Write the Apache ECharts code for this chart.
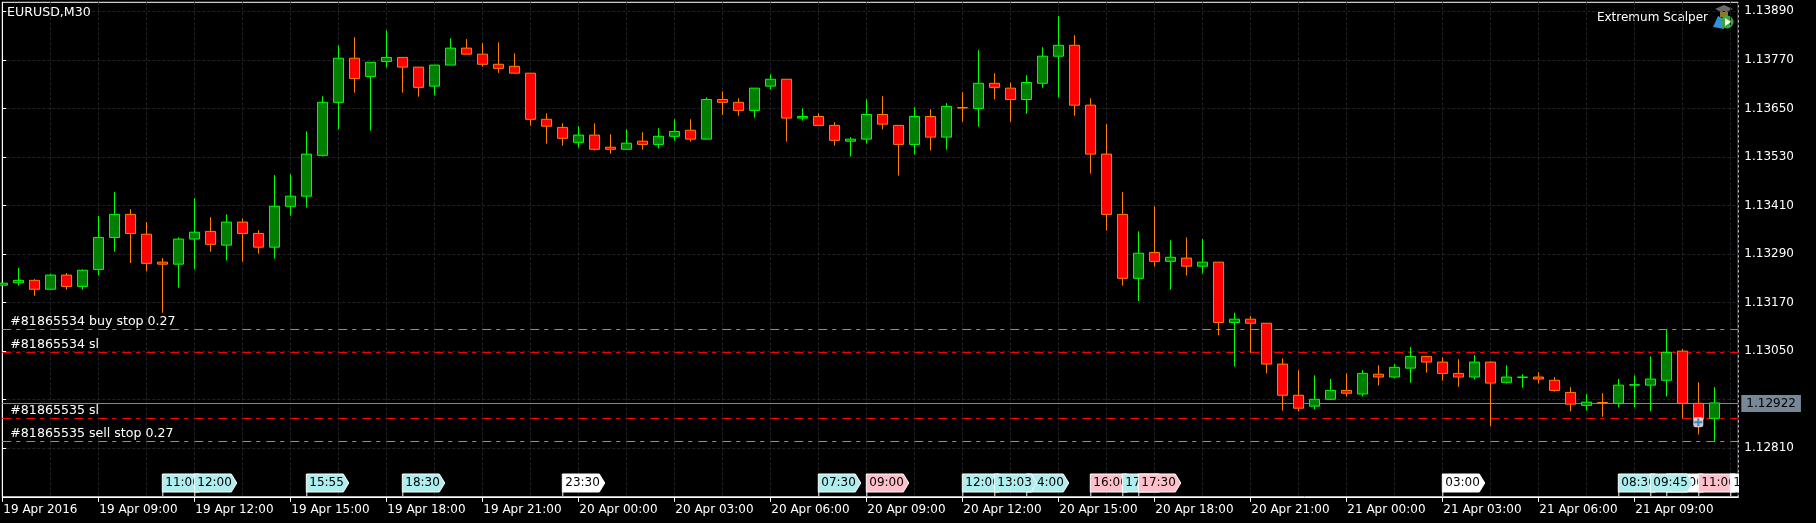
<!DOCTYPE html>
<html>
<head>
<meta charset="utf-8">
<style>
  html, body { margin: 0; padding: 0; background: #000; }
  #main { width: 1816px; height: 523px; }
</style>
<script src="https://cdn.jsdelivr.net/npm/echarts@6/dist/echarts.min.js"></script>
</head>
<body>
<div id="main"></div>
<script>
const opens = [1.13213,1.13219,1.13225,1.13203,1.13238,1.13210,1.13252,1.13331,1.13388,1.13339,1.13270,1.13265,1.13327,1.13346,1.13312,1.13369,1.13341,1.13307,1.13408,1.13433,1.13534,1.13665,1.13774,1.13729,1.13766,1.13776,1.13752,1.13705,1.13757,1.13799,1.13784,1.13759,1.13754,1.13737,1.13623,1.13603,1.13566,1.13584,1.13554,1.13549,1.13569,1.13561,1.13581,1.13596,1.13574,1.13672,1.13665,1.13645,1.13705,1.13722,1.13626,1.13630,1.13608,1.13569,1.13574,1.13635,1.13608,1.13561,1.13630,1.13579,1.13652,1.13650,1.13712,1.13700,1.13672,1.13712,1.13779,1.13806,1.13658,1.13537,1.13388,1.13230,1.13294,1.13272,1.13280,1.13260,1.13270,1.13121,1.13129,1.13119,1.13018,1.12941,1.12914,1.12931,1.12953,1.12944,1.12993,1.12986,1.13008,1.13037,1.13023,1.12995,1.12986,1.13023,1.12973,1.12985,1.12986,1.12978,1.12948,1.12916,1.12923,1.12921,1.12966,1.12966,1.12978,1.13050,1.12921,1.12884]
const closes = [1.13218,1.13225,1.13203,1.13238,1.13210,1.13250,1.13331,1.13388,1.13341,1.13267,1.13265,1.13327,1.13344,1.13314,1.13369,1.13341,1.13307,1.13408,1.13433,1.13537,1.13665,1.13774,1.13724,1.13764,1.13776,1.13752,1.13702,1.13757,1.13799,1.13784,1.13759,1.13749,1.13737,1.13623,1.13606,1.13576,1.13584,1.13549,1.13549,1.13564,1.13561,1.13581,1.13593,1.13574,1.13672,1.13665,1.13645,1.13700,1.13722,1.13626,1.13630,1.13608,1.13571,1.13574,1.13635,1.13611,1.13561,1.13630,1.13579,1.13655,1.13651,1.13712,1.13702,1.13672,1.13714,1.13779,1.13806,1.13658,1.13537,1.13388,1.13230,1.13292,1.13272,1.13282,1.13260,1.13270,1.13121,1.13129,1.13119,1.13018,1.12941,1.12909,1.12931,1.12953,1.12946,1.12995,1.12986,1.13010,1.13037,1.13023,1.12995,1.12986,1.13023,1.12971,1.12986,1.12986,1.12981,1.12953,1.12919,1.12924,1.12922,1.12966,1.12967,1.12981,1.13047,1.12921,1.12882,1.12922]
const lows = [1.13213,1.13212,1.13187,1.13202,1.13202,1.13202,1.13237,1.13296,1.13268,1.13247,1.13145,1.13207,1.13252,1.13296,1.13274,1.13271,1.13291,1.13279,1.13385,1.13405,1.13531,1.13598,1.13689,1.13595,1.13751,1.13689,1.13679,1.13682,1.13757,1.13784,1.13753,1.13738,1.13737,1.13607,1.13563,1.13558,1.13553,1.13546,1.13538,1.13549,1.13548,1.13551,1.13570,1.13568,1.13574,1.13634,1.13632,1.13627,1.13696,1.13568,1.13620,1.13608,1.13558,1.13531,1.13563,1.13598,1.13484,1.13536,1.13546,1.13548,1.13617,1.13605,1.13672,1.13617,1.13637,1.13701,1.13677,1.13632,1.13489,1.13348,1.13212,1.13174,1.13259,1.13202,1.13237,1.13242,1.13089,1.13012,1.13046,1.12995,1.12903,1.12901,1.12906,1.12929,1.12938,1.12938,1.12965,1.12983,1.12972,1.12997,1.12977,1.12962,1.12980,1.12864,1.12970,1.12960,1.12970,1.12950,1.12901,1.12903,1.12888,1.12911,1.12911,1.12901,1.12938,1.12884,1.12844,1.12827]
const highs = [1.13218,1.13256,1.13228,1.13241,1.13243,1.13252,1.13384,1.13443,1.13401,1.13369,1.13280,1.13331,1.13428,1.13381,1.13388,1.13378,1.13349,1.13485,1.13487,1.13593,1.13680,1.13806,1.13826,1.13764,1.13843,1.13776,1.13752,1.13757,1.13823,1.13821,1.13811,1.13813,1.13786,1.13737,1.13638,1.13613,1.13606,1.13613,1.13586,1.13598,1.13591,1.13601,1.13623,1.13623,1.13677,1.13692,1.13675,1.13700,1.13734,1.13722,1.13650,1.13638,1.13616,1.13579,1.13672,1.13680,1.13608,1.13653,1.13648,1.13663,1.13690,1.13794,1.13737,1.13714,1.13732,1.13801,1.13878,1.13831,1.13675,1.13611,1.13443,1.13346,1.13408,1.13324,1.13331,1.13327,1.13270,1.13145,1.13137,1.13119,1.13032,1.13003,1.12990,1.12981,1.12995,1.13003,1.13015,1.13018,1.13060,1.13037,1.13035,1.13030,1.13040,1.13025,1.13015,1.12993,1.12998,1.12986,1.12961,1.12944,1.12946,1.12981,1.12990,1.13037,1.13104,1.13055,1.12973,1.12961]

const xTickValues = [0,6,12,18,24,30,36,42,48,54,60,66,72,78,84,90,96,102]
const xTickLabels = ['19 Apr 2016','19 Apr 09:00','19 Apr 12:00','19 Apr 15:00','19 Apr 18:00','19 Apr 21:00','20 Apr 00:00','20 Apr 03:00','20 Apr 06:00','20 Apr 09:00','20 Apr 12:00','20 Apr 15:00','20 Apr 18:00','20 Apr 21:00','21 Apr 00:00','21 Apr 03:00','21 Apr 06:00','21 Apr 09:00']
const yTickValues = [1.1281,1.1293,1.1305,1.1317,1.1329,1.1341,1.1353,1.1365,1.1377,1.1389]
const yLabelValues = [1.1281,1.1305,1.1317,1.1329,1.1341,1.1353,1.1365,1.1377,1.1389]

// order lines
const orderNames = ['#81865534 buy stop 0.27', '#81865534 sl', '#81865535 sl', '#81865535 sell stop 0.27']
const orderPrices = [1.131035, 1.130466, 1.128835, 1.128267]
const orderColors = ['#32cd32', '#ff0000', '#ff0000', '#32cd32']
const lastPrice = 1.129206
const lastPriceText = '1.12922'

// time flags on the bottom, drawn in this order
const flagBars = [10, 12, 19, 25, 35, 51, 54, 60, 64, 62, 68, 70, 71, 90, 101, 104, 103, 106, 108]
const flagTexts = ['11:00', '12:00', '15:55', '18:30', '23:30', '07:30', '09:00', '12:00', '14:00', '13:03', '16:00', '17:00', '17:30', '03:00', '08:30', '10:00', '09:45', '11:00', '12:00']
const flagColors = ['#afeeee', '#afeeee', '#afeeee', '#afeeee', '#ffffff', '#afeeee', '#ffc0cb', '#afeeee', '#afeeee', '#afeeee', '#ffc0cb', '#afeeee', '#ffc0cb', '#ffffff', '#afeeee', '#ffffff', '#afeeee', '#ffc0cb', '#ffffff']

const dealBar = 106
const dealPrice = 1.12874

const myChart = echarts.init(document.getElementById('main'))
const font = 'DejaVu Sans'
const gridStyle = { color: '#1f2226', type: [3, 2], width: 1 }

const candleData = opens.map((o, i) => [i, o, closes[i], lows[i], highs[i]])

const orderLines = orderPrices.map((p, i) => ({
  yAxis: p,
  lineStyle: { color: orderColors[i], type: [9, 5, 4, 6], width: 1 },
  label: {
    show: true,
    position: 'insideStartTop',
    formatter: orderNames[i],
    color: '#fff',
    fontFamily: font,
    fontSize: 12.6,
    distance: 1,
    padding: [0, 0, 0, 7]
  }
}))
orderLines.push({
  yAxis: lastPrice,
  lineStyle: { color: '#778899', type: 'solid', width: 1 },
  label: {
    show: true,
    position: 'end',
    formatter: lastPriceText,
    color: '#000',
    backgroundColor: '#778899',
    fontFamily: font,
    fontSize: 12,
    distance: 3,
    padding: [3, 5, 2, 5]
  }
})

myChart.setOption({
  animation: false,
  backgroundColor: '#000',
  tooltip: { show: false },
  title: {
    text: 'EURUSD,M30',
    left: 2,
    top: 1,
    textStyle: { color: '#fff', fontFamily: font, fontSize: 12.6, fontWeight: 'normal' }
  },
  grid: {
    show: true,
    left: 2.3,
    right: 77.7,
    top: 2.3,
    height: 494.5,
    backgroundColor: '#000',
    borderColor: '#fff',
    borderWidth: 1
  },
  xAxis: [{
    type: 'value',
    min: 0,
    max: 108.5,
    splitLine: { show: false },
    axisLine: { lineStyle: { color: '#fff' } },
    axisTick: { show: true, length: 5, customValues: xTickValues, lineStyle: { color: '#fff' } },
    axisLabel: {
      customValues: xTickValues,
      color: '#fff',
      fontFamily: font,
      fontSize: 12,
      margin: 7,
      align: 'left',
      padding: [0, 0, 0, 1],
      formatter: v => xTickLabels[xTickValues.indexOf(v)]
    }
  }, {
    // only carries the vertical grid, every 3 bars
    type: 'value',
    position: 'bottom',
    min: 0,
    max: 108.5,
    interval: 3,
    axisLine: { show: false },
    axisTick: { show: false },
    axisLabel: { show: false },
    splitLine: { show: true, lineStyle: gridStyle }
  }],
  yAxis: {
    type: 'value',
    position: 'right',
    min: 1.1269,
    max: 1.139122,
    scale: true,
    axisLine: { show: true, lineStyle: { color: '#fff' } },
    axisTick: { show: true, length: 4, customValues: yTickValues, lineStyle: { color: '#fff' } },
    splitLine: { show: true, lineStyle: gridStyle },
    axisLabel: {
      customValues: yLabelValues,
      color: '#fff',
      fontFamily: font,
      fontSize: 12,
      margin: 6,
      formatter: v => v.toFixed(5)
    }
  },
  series: [{
    // order lines sit behind the candles
    type: 'line',
    z: 2,
    data: [],
    markLine: {
      silent: true,
      z: 2,
      precision: 6,
      symbol: 'none',
      data: orderLines
    }
  }, {
    type: 'candlestick',
    z: 4,
    barWidth: 10,
    data: candleData,
    itemStyle: {
      color: '#008000',
      color0: '#ff0000',
      borderColor: '#00ff00',
      borderColor0: '#ff8000',
      borderWidth: 1
    }
  }, {
    type: 'scatter',
    z: 5,
    symbol: 'roundRect',
    symbolSize: 10,
    itemStyle: { color: '#fff' },
    data: [[dealBar, dealPrice]]
  }, {
    type: 'scatter',
    z: 6,
    symbol: 'path://M3 0h2v3h3v2h-3v3h-2v-3h-3v-2h3z',
    symbolSize: 8,
    itemStyle: { color: '#1e6fb8' },
    data: [[dealBar, dealPrice]]
  }, {
    type: 'custom',
    z: 7,
    clip: true,
    data: flagBars.map((b, i) => [b, i]),
    encode: { x: 0 },
    renderItem: (params, api) => {
      const x = api.coord([api.value(0), 1.1269])[0]
      const i = api.value(1)
      const base = 496
      const pts = [[x, base - 22], [x + 37, base - 22], [x + 42.5, base - 13], [x + 37, base - 4], [x, base - 4]]
      return {
        type: 'group',
        children: [{
          type: 'line',
          shape: { x1: x + 0.5, y1: base - 4, x2: x + 0.5, y2: base },
          style: { stroke: '#fff', lineWidth: 1 }
        }, {
          type: 'polygon',
          shape: { points: pts },
          style: { fill: flagColors[i], stroke: '#fff', lineWidth: 1 }
        }, {
          type: 'text',
          style: {
            x: x + 3,
            y: base - 13,
            text: flagTexts[i],
            fill: '#000',
            font: '12px ' + font,
            verticalAlign: 'middle'
          }
        }]
      }
    }
  }],
  graphic: [{
    type: 'text',
    right: 108,
    top: 12,
    silent: true,
    style: { text: 'Extremum Scalper', fill: '#fff', font: '12px ' + font }
  }, {
    // little expert advisor badge next to the name
    type: 'group',
    left: 1713,
    top: 5,
    silent: true,
    children: [
      { type: 'polygon', shape: { points: [[3, 4], [12, 0], [21, 4], [12, 8]] }, style: { fill: '#6a6a6a' } },
      { type: 'rect', shape: { x: 8, y: 6, width: 8, height: 6 }, style: { fill: '#8a7a2a' } },
      { type: 'polygon', shape: { points: [[1, 22], [6, 11], [12, 14], [12, 24]] }, style: { fill: '#2f8fe0' } },
      { type: 'circle', shape: { cx: 15, cy: 17, r: 6.5 }, style: { fill: '#3aa83a' } },
      { type: 'polygon', shape: { points: [[13, 13], [19, 17], [13, 21]] }, style: { fill: '#fff' } }
    ]
  }]
})
</script>
</body>
</html>
